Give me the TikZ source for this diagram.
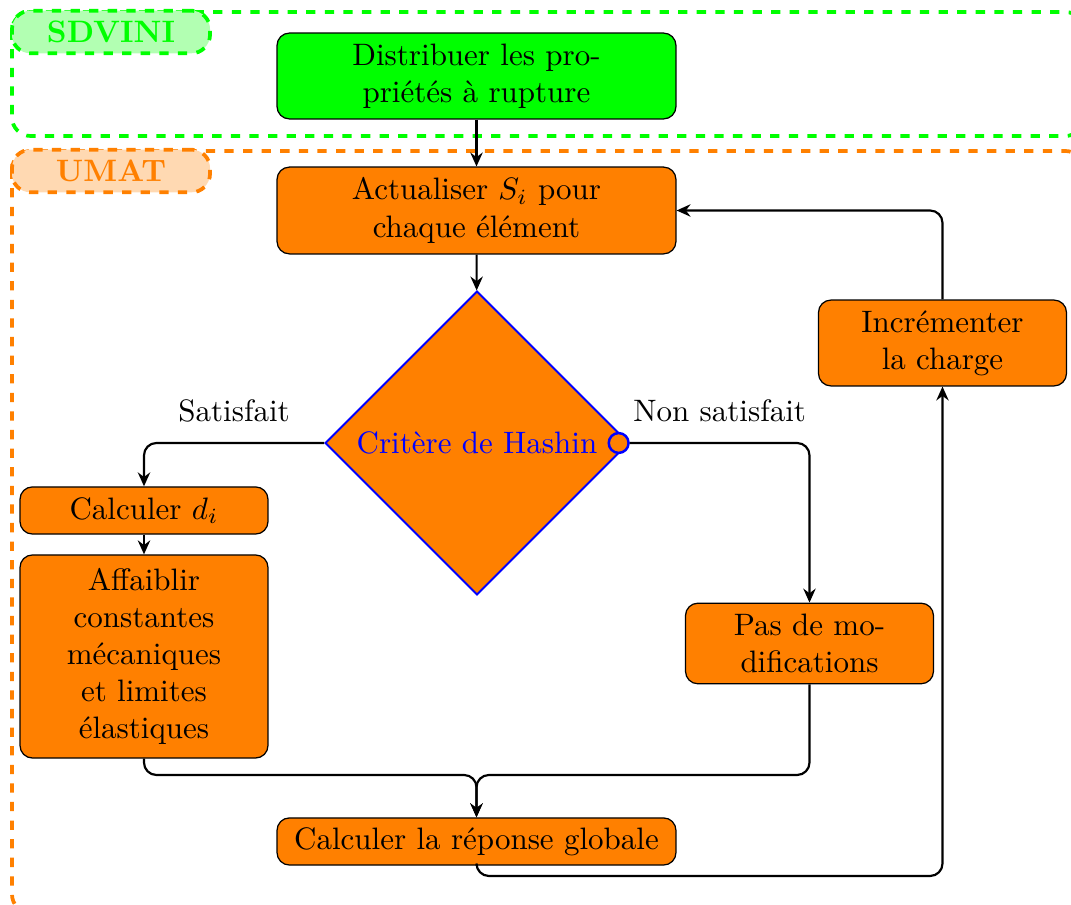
\documentclass[tikz,border=0pt]{standalone}
\usepackage{fontspec}
\usepackage{amsmath}
\usetikzlibrary{positioning,calc,arrows.meta,shapes.geometric}

\begin{document}
\begin{tikzpicture}[x=0.3226pt,y=-0.3226pt,
    box/.style={rectangle,draw,rounded corners=4pt,fill=orange,align=center,inner sep=2pt},
    zone/.style={dashed,line width=1.2pt,rounded corners=6pt},
    conn/.style={line width=0.7pt,rounded corners=4pt},
    arr/.style={conn,-{Stealth[length=4.5pt,width=4pt,inset=1.5pt]}}]
\useasboundingbox (0,0) rectangle (1071,905);
% zones
\draw[zone,green] (12,12) rectangle (1084,136);
\draw[zone,orange] (12,151) rectangle (1084,913);
\node[zone,draw=green,fill=green!30,text=green,font=\bfseries,minimum width=63.9pt,minimum height=12.9pt] (sdvini) at (111,32) {SDVINI};
\node[zone,draw=orange,fill=orange!30,text=orange,font=\bfseries,minimum width=63.9pt,minimum height=12.9pt] (umat) at (111,171) {UMAT};
% steps
\node[box,fill=green,minimum width=128.7pt,minimum height=27.7pt] (distrib) at (476.5,76) {Distribuer les pro-\\priétés à rupture};
\node[box,minimum width=128.7pt,minimum height=28pt] (actual) at (476.5,210.5) {Actualiser $S_i$ pour\\chaque élément};
\node[diamond,draw=blue,semithick,fill=orange,text=blue,aspect=1,inner sep=0pt,minimum width=98pt,minimum height=98pt] (hashin) at (477,443) {Critère de Hashin};
\node[circle,draw=blue,line width=0.8pt,fill=orange,inner sep=0pt,minimum size=6.4pt,anchor=east] (hashinpt) at (hashin.east) {};
\node[box,minimum width=80pt,minimum height=15.2pt] (calcd) at (144,510.5) {Calculer $d_i$};
\node[box,minimum width=80pt,minimum height=65.5pt] (affaib) at (144,656.5) {Affaiblir\\constantes\\mécaniques\\et limites\\élastiques};
\node[box,minimum width=80pt,minimum height=26pt] (pasmod) at (809.5,643.5) {Pas de mo-\\difications};
\node[box,minimum width=128.7pt,minimum height=15.2pt] (global) at (476.5,841.5) {Calculer la réponse globale};
\node[box,minimum width=80pt,minimum height=27.7pt] (incr) at (942.5,343) {Incrémenter\\la charge};
\coordinate (merge) at (476.5,775);
\coordinate (back) at (942.5,876);
% connectors
\draw[arr] (distrib) -- (actual);
\draw[arr] (actual) -- (hashin);
\draw[arr] (hashin.west) -| node[pos=0.25,above=3pt] (sat) {Satisfait} (calcd.north);
\draw[arr] (hashinpt.east) -| node[pos=0.25,above=3pt] (nonsat) {Non satisfait} (pasmod.north);
\draw[arr] (calcd) -- (affaib);
\draw[arr] (affaib.south) |- (merge) -- (global.north);
\draw[arr] (pasmod.south) |- (merge) -- (global.north);
\draw[arr] (global.south) |- (back) -- (incr.south);
\draw[arr] (incr.north) |- (actual.east);
\end{tikzpicture}
\end{document}
